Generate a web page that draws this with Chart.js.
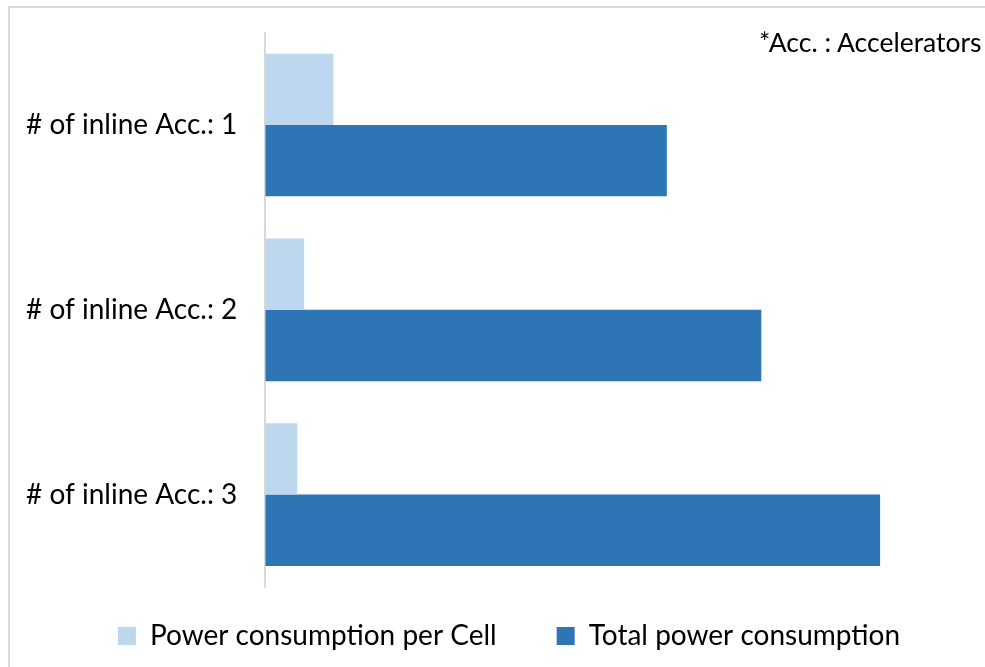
<!DOCTYPE html>
<html>
<head>
<meta charset="utf-8">
<script src="https://cdn.jsdelivr.net/npm/chart.js@4.4.1/dist/chart.umd.min.js"></script>
<style>
    html, body { margin: 0; padding: 0; background: #fff; }
    #wrap { position: relative; width: 985px; height: 667px; overflow: hidden; }
    #frame {
        position: absolute; left: 8px; top: 6px; right: -4px; bottom: -4px;
        border-left: 2px solid #d9d9d9; border-top: 2px solid #d9d9d9;
    }
    #note {
        position: absolute; left: 759px; top: 26px; white-space: nowrap;
        font-family: Lato, "Noto Sans", sans-serif; font-size: 26.5px; color: #000;
    }
    canvas { position: absolute; left: 0; top: 0; }
</style>
</head>
<body>
<div id="wrap">
    <div id="frame"></div>
    <canvas id="chart" width="985" height="667"></canvas>
    <div id="note">*Acc. : Accelerators</div>
</div>
<script>
    // Data
    var categories = ["# of inline Acc.: 1", "# of inline Acc.: 2", "# of inline Acc.: 3"];
    var perCell = [9.8, 5.6, 4.6];
    var total = [57.8, 71.4, 88.5];
    var seriesNames = ["Power consumption per Cell", "Total power consumption"];

    Chart.defaults.font.family = "Lato, 'Noto Sans', sans-serif";
    Chart.defaults.color = "#000";

    // legend: keep the wide gap between items, pull it up a bit and nudge it right
    var legendShift = {
        id: 'legendShift',
        afterLayout: function (chart) {
            chart.legend.top -= 25;
            chart.legend.left += 26;
            chart.legend.right += 26;
        }
    };

    var ctx = document.getElementById('chart').getContext('2d');
    var myChart = new Chart(ctx, {
        type: 'bar',
        data: {
            labels: categories,
            datasets: [{
                label: seriesNames[0],
                data: perCell,
                backgroundColor: "#BDD7EE",
                categoryPercentage: 0.772,
                barPercentage: 1
            }, {
                label: seriesNames[1],
                data: total,
                backgroundColor: "#2E75B6",
                categoryPercentage: 0.772,
                barPercentage: 1
            }]
        },
        options: {
            indexAxis: 'y',
            responsive: false,
            animation: false,
            layout: { padding: { top: 0, right: 25, left: 6, bottom: 0 } },
            scales: {
                x: { display: false, min: 0, max: 100 },
                y: {
                    grid: { display: false },
                    border: { display: true, color: '#d9d9d9', width: 2 },
                    ticks: { padding: 20, font: { size: 28, lineHeight: 0.9 }, color: '#000' }
                }
            },
            plugins: {
                tooltip: { enabled: false },
                legend: {
                    position: 'bottom',
                    maxHeight: 80,
                    labels: {
                        boxWidth: 18,
                        boxHeight: 18,
                        padding: 60,
                        font: { size: 28 },
                        color: '#000'
                    }
                }
            }
        },
        plugins: [legendShift]
    });
</script>
</body>
</html>
